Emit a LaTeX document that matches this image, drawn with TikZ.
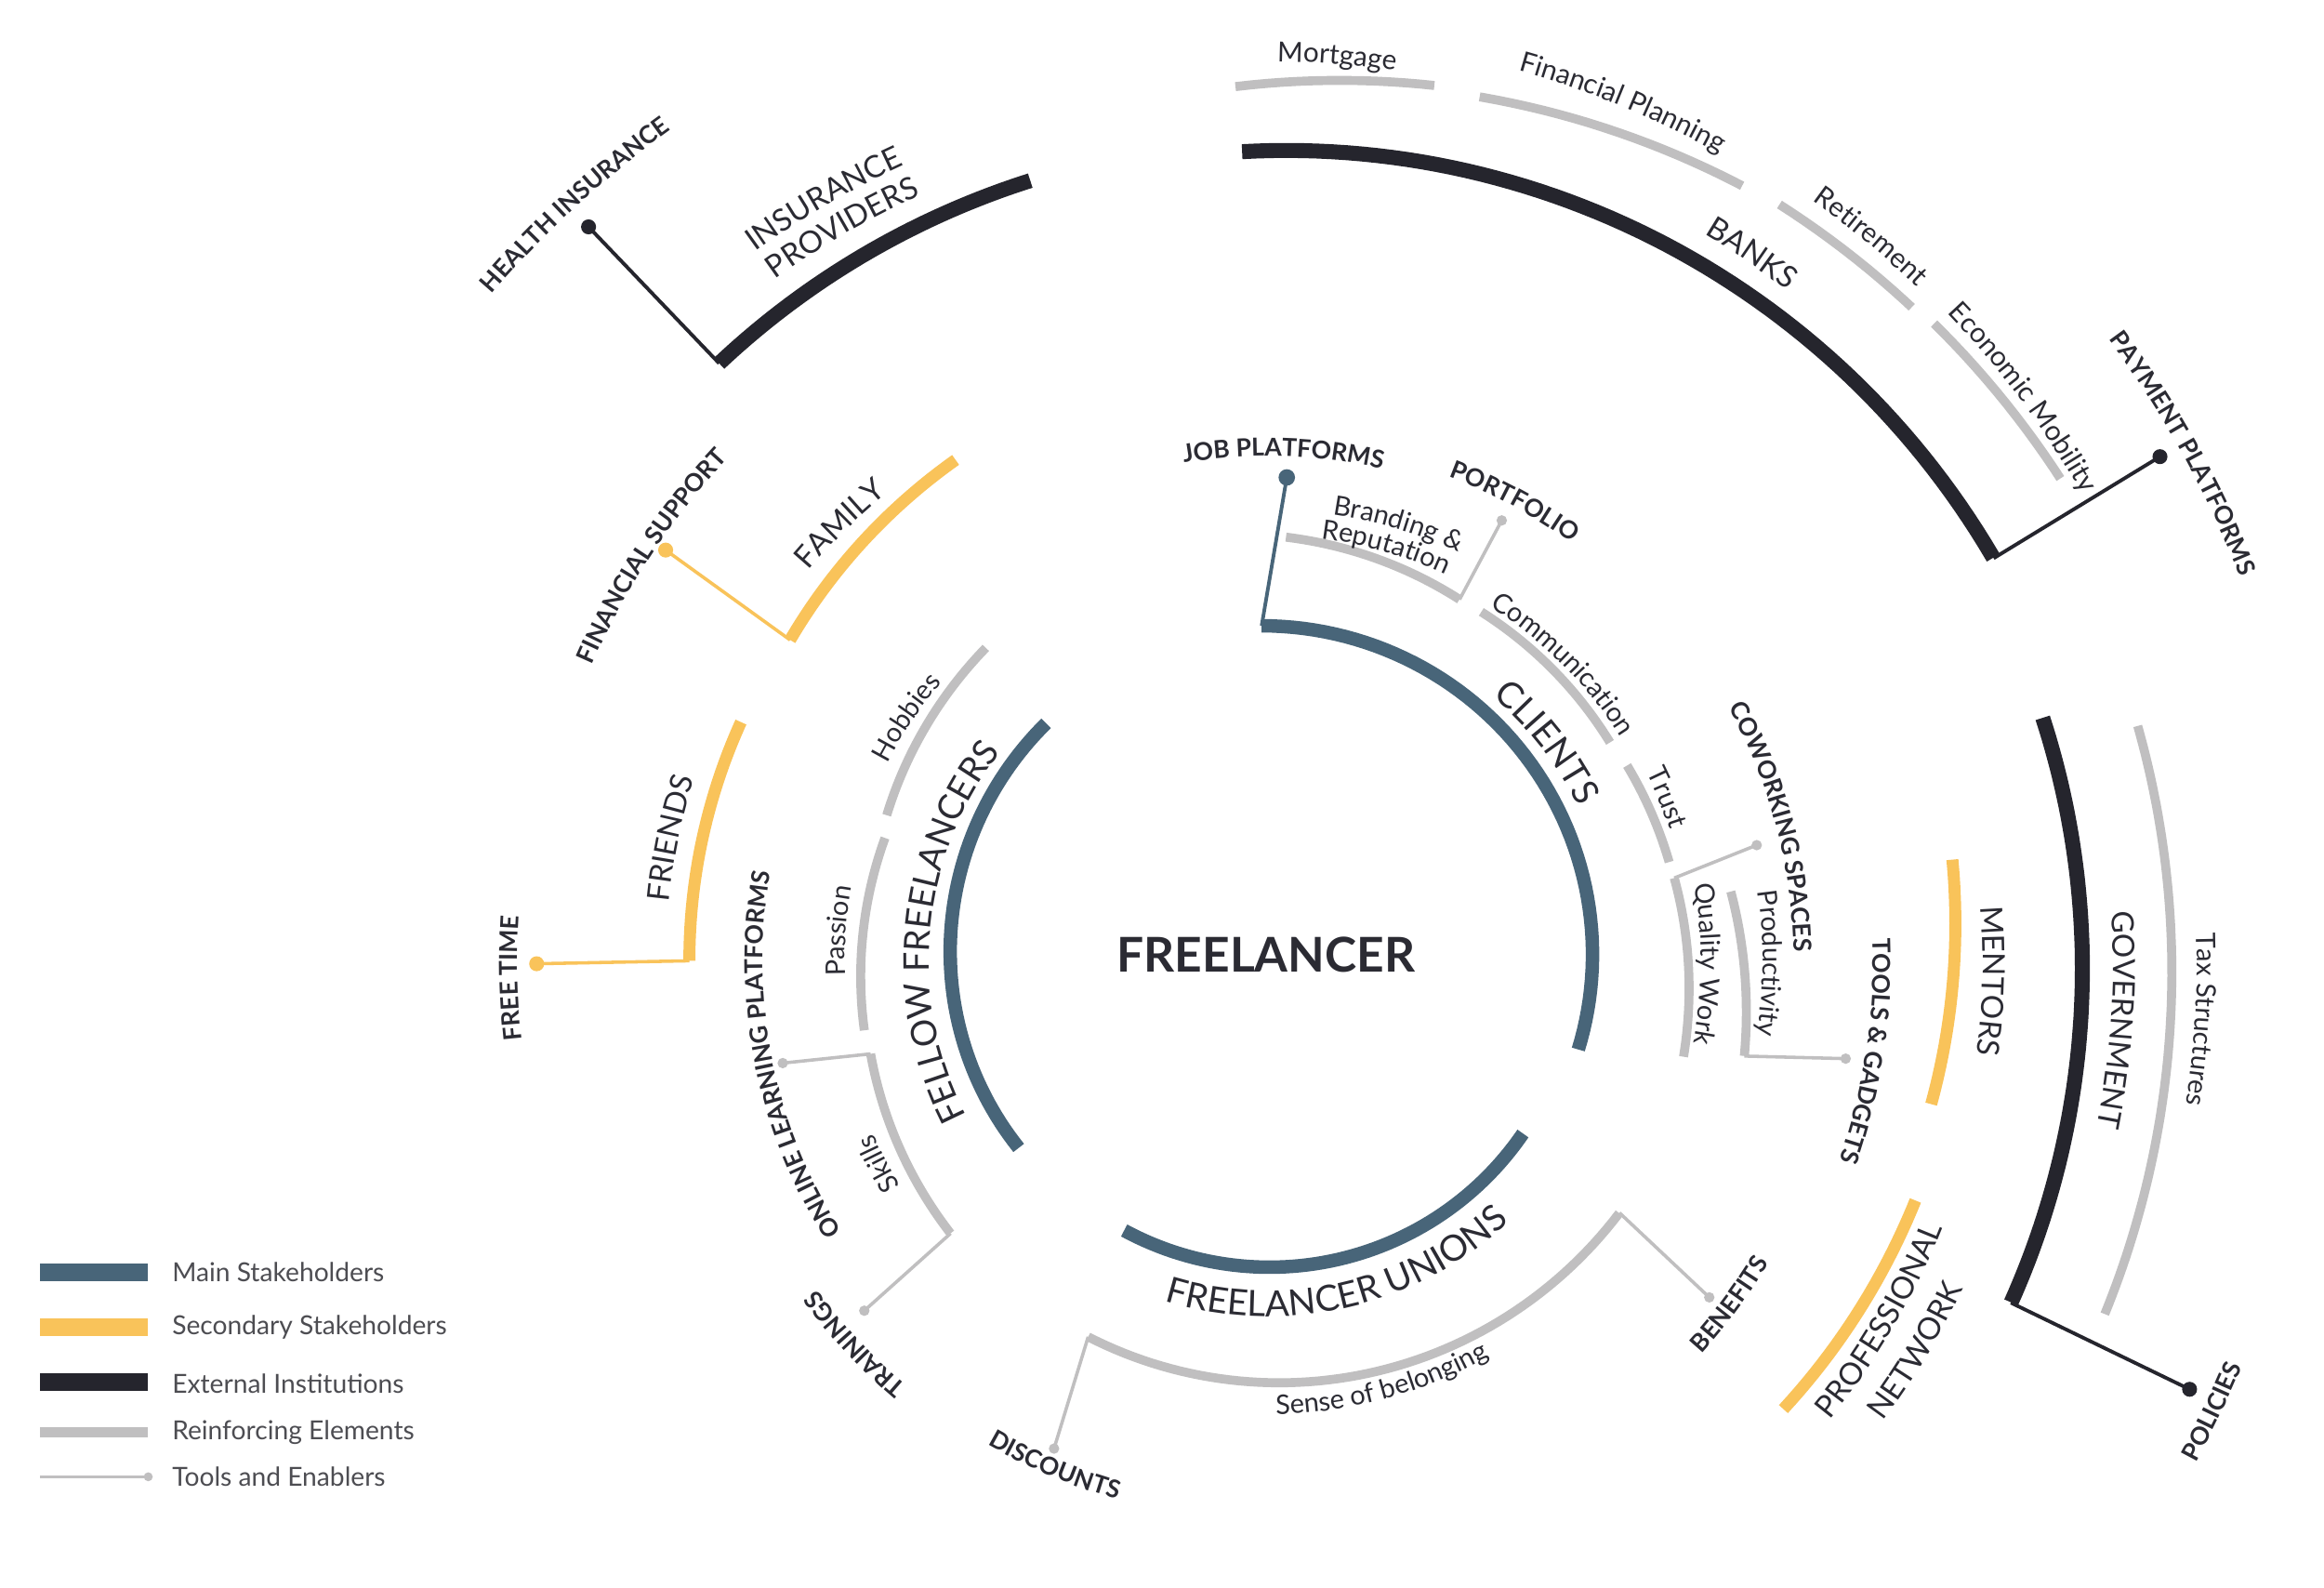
\documentclass[tikz,border=0pt]{standalone}
\usepackage{fontspec}
\setmainfont{Lato}
\usetikzlibrary{decorations.text,calc}
\definecolor{mainc}{HTML}{486579}
\definecolor{secc}{HTML}{F9C35A}
\definecolor{extc}{HTML}{25252D}
\definecolor{reic}{HTML}{C0BFC0}
\definecolor{txtc}{HTML}{2B2B33}
\definecolor{legc}{HTML}{4D4D52}
\tikzset{
  mainarc/.style={draw=mainc,line width=9pt,line join=round},
  secarc/.style={draw=secc,line width=8pt,line join=round},
  extarc/.style={draw=extc,line width=10pt,line join=round},
  reiarc/.style={draw=reic,line width=6pt,line join=round},
  mainlink/.style={draw=mainc,line width=2.4pt},
  seclink/.style={draw=secc,line width=2.2pt},
  extlink/.style={draw=extc,line width=2.4pt},
  toollink/.style={draw=reic,line width=2.2pt},
  legtxt/.style={anchor=west,inner sep=0pt,text=legc,font=\fontsize{17.5}{20}\selectfont},
}
\newcommand\lbB{\bfseries\fontsize{16.5}{19}\selectfont\color{txtc}}
\newcommand\lbR{\fontsize{18}{20}\selectfont\color{txtc}}
\newcommand\lbG{\fontsize{18.5}{21}\selectfont\color{txtc}}
\newcommand\lbC{\fontsize{20.5}{24}\selectfont\color{txtc}}
\newcommand\lbM{\fontsize{24}{28}\selectfont\color{txtc}}
\newcommand\lbMs{\fontsize{23.5}{28}\selectfont\color{txtc}}
% arc with linearly varying radius: style, a1, a2, r1, r2
\newcommand\sarc[5]{\draw[#1] plot[domain=0:1,samples=60,variable=\t]
  ({855+((#4)+((#5)-(#4))*\t)*cos((#2)+((#3)-(#2))*\t)},{-648+((#4)+((#5)-(#4))*\t)*sin((#2)+((#3)-(#2))*\t)});}
% clockwise text: font, baseline radius, mid angle, text
\newcommand\cwl[4]{\path[decorate,decoration={text along path,text align=center,text={|#1|#4}}]
  ($(C)+({(#3)+55}:#2)$) arc[start angle={(#3)+55},end angle={(#3)-55},radius=#2];}
% counter-clockwise text
\newcommand\ccwl[4]{\path[decorate,decoration={text along path,text align=center,text={|#1|#4}}]
  ($(C)+({(#3)-55}:#2)$) arc[start angle={(#3)-55},end angle={(#3)+55},radius=#2];}
\begin{document}
\begin{tikzpicture}[x=0.99pt,y=0.99pt]
\fill[white] (0pt,0pt) rectangle (1552pt,-1060pt);
\useasboundingbox (0pt,0pt) rectangle (1552pt,-1060pt);
\coordinate (C) at (855,-648);
% arc end points
\coordinate (insS) at ($(C)+(132.55:547)$);
\coordinate (banE) at ($(C)+(29:560)$);
\coordinate (govE) at ($(C)+(-24.7:552)$);
\coordinate (famS) at ($(C)+(146.1:388)$);
\coordinate (friS) at ($(C)+(180:390)$);
\coordinate (cliS) at ($(C)+(91:226)$);
\coordinate (braE) at ($(C)+(62:276)$);
\coordinate (quaS) at ($(C)+(11.5:280)$);
\coordinate (proE) at ($(C)+(-11.3:328)$);
\coordinate (skiS) at ($(C)+(193.2:275)$);
\coordinate (skiE) at ($(C)+(220.7:282)$);
\coordinate (senS) at ($(C)+(244.5:281)$);
\coordinate (senE) at ($(C)+(324.4:292)$);
% dots
\coordinate (hiDot) at (397,-153);
\coordinate (ppDot) at (1457,-308);
\coordinate (poDot) at (1477,-937);
\coordinate (fsDot) at (449,-371);
\coordinate (ftDot) at (362,-650);
\coordinate (jpDot) at (868,-322);
\coordinate (pfDot) at (1013,-351);
\coordinate (cwDot) at (1185,-570);
\coordinate (tgDot) at (1245,-714);
\coordinate (olDot) at (528,-717);
\coordinate (trDot) at (583,-884);
\coordinate (dcDot) at (711,-977);
\coordinate (bnDot) at (1153,-875);
% connectors
\draw[extlink] (insS) -- (hiDot); \fill[extc] (hiDot) circle[radius=5pt];
\draw[extlink] (banE) -- (ppDot); \fill[extc] (ppDot) circle[radius=5pt];
\draw[extlink] (govE) -- (poDot); \fill[extc] (poDot) circle[radius=5pt];
\draw[seclink] (famS) -- (fsDot); \fill[secc] (fsDot) circle[radius=5pt];
\draw[seclink] (friS) -- (ftDot); \fill[secc] (ftDot) circle[radius=5pt];
\draw[mainlink] (cliS) -- (jpDot); \fill[mainc] (jpDot) circle[radius=5.5pt];
\draw[toollink] (braE) -- (pfDot); \fill[reic] (pfDot) circle[radius=3.5pt];
\draw[toollink] (quaS) -- (cwDot); \fill[reic] (cwDot) circle[radius=3.5pt];
\draw[toollink] (proE) -- (tgDot); \fill[reic] (tgDot) circle[radius=3.5pt];
\draw[toollink] (skiS) -- (olDot); \fill[reic] (olDot) circle[radius=3.5pt];
\draw[toollink] (skiE) -- (trDot); \fill[reic] (trDot) circle[radius=3.5pt];
\draw[toollink] (senS) -- (dcDot); \fill[reic] (dcDot) circle[radius=3.5pt];
\draw[toollink] (senE) -- (bnDot); \fill[reic] (bnDot) circle[radius=3.5pt];
% main stakeholders
\sarc{mainarc}{91}{-16}{226}{218}
\sarc{mainarc}{133}{217}{219}{210}
\sarc{mainarc}{242}{326}{206}{208}
% secondary
\sarc{secarc}{146.1}{121.9}{388}{398}
\sarc{secarc}{180}{155.6}{390}{390}
\sarc{secarc}{8.4}{-12.2}{467}{458}
\sarc{secarc}{-20.3}{-41}{466}{461}
% external
\sarc{extarc}{132.55}{106.9}{547}{550}
\sarc{extarc}{91.8}{29}{546}{560}
\sarc{extarc}{17.4}{-24.7}{548}{552}
% reinforcing
\sarc{reiarc}{92.1}{79.2}{590}{601}
\sarc{reiarc}{76.2}{58.5}{600}{613}
\sarc{reiarc}{55.9}{45.4}{616}{619}
\sarc{reiarc}{43.7}{31.3}{622}{626}
\sarc{reiarc}{15.1}{-22.9}{608}{613}
\sarc{reiarc}{87.5}{62}{286}{276}
\sarc{reiarc}{58.5}{32.5}{276}{274}
\sarc{reiarc}{28.5}{13.8}{276}{279}
\sarc{reiarc}{11.5}{-13}{280}{288}
\sarc{reiarc}{8.5}{-11.3}{316}{328}
\sarc{reiarc}{132}{159.1}{284}{275}
\sarc{reiarc}{162.2}{189.8}{271}{276}
\sarc{reiarc}{193.2}{220.7}{275}{282}
\sarc{reiarc}{244.5}{324.4}{281}{292}
% centre
\node[font=\bfseries\fontsize{32}{36}\selectfont,text=txtc,inner sep=0pt] (fl) at (854,-644) {FREELANCER};
% labels clockwise
\cwl{\lbB}{690}{132.5}{HEALTH INSURANCE}
\cwl{\lbC}{590}{120.2}{INSURANCE}
\cwl{\lbC}{567}{120.1}{PROVIDERS}
\cwl{\lbG}{606.5}{85.6}{Mortgage}
\cwl{\lbG}{624}{67.5}{Financial Planning}
\cwl{\lbG}{631}{50.2}{Retirement}
\cwl{\lbG}{633.5}{36.7}{Economic Mobility}
\cwl{\lbC}{572}{55.6}{BANKS}
\cwl{\lbB}{705.5}{29}{PAYMENT PLATFORMS}
\cwl{\lbB}{340.5}{88.2}{JOB PLATFORMS}
\cwl{\lbB}{348.5}{61.7}{PORTFOLIO}
\cwl{\lbR}{304}{73.3}{Branding {\&}}
\cwl{\lbR}{287}{74}{Reputation}
\cwl{\lbR}{282}{45.1}{Communication}
\cwl{\lbM}{234}{38}{CLIENTS}
\cwl{\lbR}{285.5}{22.2}{Trust}
\cwl{\lbB}{355}{14.9}{COWORKING SPACES}
\cwl{\lbR}{292.5}{-0.4}{Quality Work}
\cwl{\lbR}{334}{-0.3}{Productivity}
\cwl{\lbB}{408.5}{-8.6}{TOOLS {\&} GADGETS}
\cwl{\lbC}{482.5}{-1.6}{MENTORS}
\cwl{\lbC}{570.5}{-4}{GOVERNMENT}
\cwl{\lbR}{627}{-3.6}{Tax Structures}
\cwl{\lbB}{376}{222.9}{TRAININGS}
\cwl{\lbR}{290.5}{207.5}{Skills}
\cwl{\lbB}{340.5}{191.2}{ONLINE LEARNING PLATFORMS}
\cwl{\lbB}{506}{181.3}{FREE TIME}
\cwl{\lbC}{405.5}{168.4}{FRIENDS}
\cwl{\lbC}{406.5}{134.4}{FAMILY}
\cwl{\lbB}{497.5}{146.7}{FINANCIAL SUPPORT}
\cwl{\lbR}{289}{146}{Hobbies}
\cwl{\lbR}{285}{176}{Passion}
\cwl{\lbMs}{228.5}{174.6}{FELLOW FREELANCERS}
% labels counter-clockwise
\ccwl{\lbC}{489.5}{-30.4}{PROFESSIONAL}
\ccwl{\lbC}{518.5}{-31}{NETWORK}
\ccwl{\lbB}{712}{-25.5}{POLICIES}
\ccwl{\lbB}{395}{-36.6}{BENEFITS}
\ccwl{\lbM}{240}{-77}{FREELANCER UNIONS}
\ccwl{\lbR}{306}{-74.8}{Sense of belonging}
\ccwl{\lbB}{377}{-112.8}{DISCOUNTS}
% legend
\coordinate (lg1a) at (27,-858); \coordinate (lg1b) at (100,-858);
\coordinate (lg2a) at (27,-895); \coordinate (lg2b) at (100,-895);
\coordinate (lg3a) at (27,-932); \coordinate (lg3b) at (100,-932);
\coordinate (lg4a) at (27,-966); \coordinate (lg4b) at (100,-966);
\coordinate (lg5a) at (27,-996); \coordinate (lg5b) at (100,-996);
\draw[mainc,line width=12pt] (lg1a) -- (lg1b);
\draw[secc,line width=12pt] (lg2a) -- (lg2b);
\draw[extc,line width=12pt] (lg3a) -- (lg3b);
\draw[reic,line width=7pt] (lg4a) -- (lg4b);
\draw[toollink] (lg5a) -- (lg5b); \fill[reic] (lg5b) circle[radius=3pt];
\node[legtxt] (lt1) at (116,-858) {Main Stakeholders};
\node[legtxt] (lt2) at (116,-895) {Secondary Stakeholders};
\node[legtxt] (lt3) at (116,-933) {External Institutions};
\node[legtxt] (lt4) at (116,-966) {Reinforcing Elements};
\node[legtxt] (lt5) at (116,-996) {Tools and Enablers};
\end{tikzpicture}
\end{document}
